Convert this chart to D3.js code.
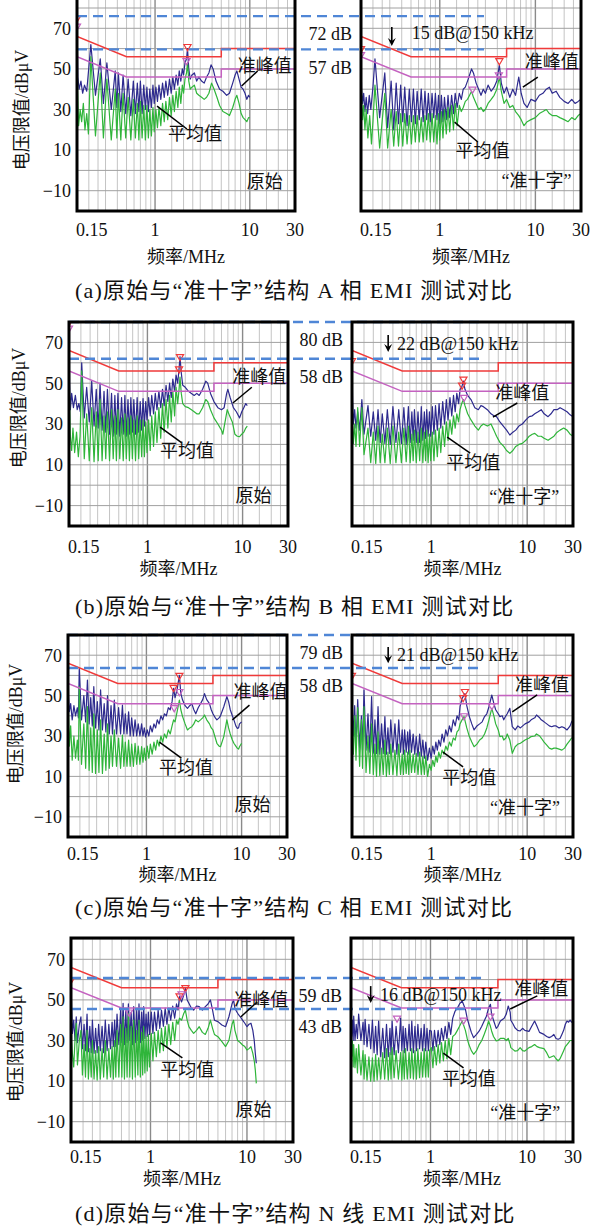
<!DOCTYPE html>
<html>
<head>
<meta charset="utf-8">
<script src="https://cdn.jsdelivr.net/npm/d3@7"></script>
<style>
  body { margin: 0; background: #fff; }
  text { font-family: "Liberation Serif", "Times New Roman", "Noto Sans CJK SC", serif; fill: #111; }
</style>
</head>
<body>
<svg width="590" height="1230"></svg>
<script>
// ---- data (frequency in MHz, level in dBuV) ----
const freqTicks = [0.15, 1, 10, 30];
const freqTickLabels = ['0.15', '1', '10', '30'];
const levelTicks = [70, 50, 30, 10, -10];

const qpLimit = [[0.15, 66], [0.5, 56], [5, 56], [5, 60], [30, 60]];
const avLimit = [[0.15, 56], [0.5, 46], [5, 46], [5, 50], [30, 50]];

// (a) phase A
const aOrigQP = [[0.150,74],[0.153,46],[0.158,40],[0.165,44],[0.172,38],[0.18,42],[0.19,39],
  [0.21,62],[0.235,37],[0.264,55],[0.285,33],[0.31,53],[0.345,30],[0.38,49],[0.395,31],[0.41,48],[0.435,29],[0.46,47],[0.49,28],[0.52,45],[0.555,27],[0.59,44],[0.62,28],[0.65,43],[0.675,29],[0.7,44],[0.73,28],[0.76,42],[0.79,30],[0.82,41],[0.85,29],[0.88,40],[0.915,31],[0.95,42],[0.98,33],
  [1.02,41],[1.06,34],[1.1,42],[1.15,35],[1.2,43],[1.25,36],[1.3,44],[1.36,37],[1.42,45],[1.48,38],[1.54,46],[1.6,40],[1.67,47],[1.74,42],[1.8,49],[1.87,44],[1.94,50],[2.0,47],[2.07,53],[2.15,55],[2.2,60],[2.27,50],[2.35,45],[2.45,47],[2.6,48],[2.75,44],[2.9,46],[3.1,44],[3.3,43],[3.5,46],[3.7,48],[3.9,52],[4.1,50],[4.4,44],[4.8,40],[5.2,39],[5.7,37],[6.1,38],[6.6,43],[7.0,47],[7.3,49],[7.7,45],[8.1,41],[8.5,40],[8.9,38],[9.3,35],[9.7,37],[10,36]];
const aOrigAV = [[0.150,68],[0.152,40],[0.156,22],[0.162,30],[0.168,24],[0.175,33],[0.182,20],[0.19,28],[0.198,18],
  [0.21,56],[0.235,17],[0.264,48],[0.285,16],[0.31,45],[0.345,15],[0.38,40],[0.395,16],[0.41,38],[0.435,15],[0.46,38],[0.49,16],[0.52,36],[0.555,15],[0.59,35],[0.62,16],[0.65,33],[0.675,15],[0.7,34],[0.73,16],[0.76,32],[0.79,15],[0.82,32],[0.85,16],[0.88,30],[0.915,17],[0.95,31],[0.98,19],
  [1.02,30],[1.06,21],[1.1,31],[1.15,22],[1.2,33],[1.25,24],[1.3,34],[1.36,25],[1.42,36],[1.48,27],[1.54,37],[1.6,29],[1.67,39],[1.74,31],[1.8,41],[1.87,33],[1.94,42],[2.0,38],[2.07,45],[2.15,48],[2.2,53],[2.27,44],[2.35,40],[2.45,41],[2.6,42],[2.75,38],[2.9,37],[3.1,36],[3.3,35],[3.5,36],[3.7,38],[3.95,43],[4.2,40],[4.5,36],[4.8,32],[5.2,29],[5.7,28],[6.1,27],[6.6,31],[7.0,35],[7.3,37],[7.7,33],[8.1,28],[8.5,26],[8.9,25],[9.3,24],[9.7,26],[10,26]];
const aCrossQP = [[0.150,59],[0.152,40],[0.156,33],[0.16,38],[0.165,29],[0.17,36],[0.176,28],[0.183,37],[0.19,30],[0.2,41],
  [0.21,55],[0.235,26],[0.266,48],[0.285,21],[0.31,44],[0.33,20],[0.35,43],[0.37,23],[0.39,42],[0.41,24],[0.43,41],[0.455,22],[0.48,40],[0.505,24],[0.53,40],[0.555,23],[0.58,39],[0.61,25],[0.64,40],[0.67,24],[0.7,39],[0.73,25],[0.76,38],[0.795,24],[0.83,38],[0.865,26],[0.9,38],[0.935,25],[0.97,37],[1.0,23],
  [1.04,37],[1.08,24],[1.12,36],[1.17,25],[1.22,37],[1.27,26],[1.33,37],[1.39,28],[1.45,38],[1.52,31],[1.6,38],[1.68,35],[1.76,40],[1.85,41],[1.95,44],[2.05,47],[2.15,50],[2.25,48],[2.4,43],[2.55,40],[2.7,37],[2.85,40],[3.0,38],[3.2,42],[3.45,39],[3.7,41],[3.95,44],[4.2,52],[4.4,43],[4.7,38],[5.0,41],[5.4,36],[5.8,40],[6.2,37],[6.7,46],[7.1,38],[7.6,33],[8.2,31],[9.0,35],[10,34],[11,37],[12,38],[13,40],[14,41],[15,38],[16.5,39],[18,36],[20,34],[22,33],[24,35],[26,33],[28,34],[30,35]];
const aCrossAV = [[0.150,57],[0.152,35],[0.156,25],[0.16,32],[0.165,20],[0.17,30],[0.177,16],[0.185,27],[0.193,13],[0.2,24],
  [0.21,42],[0.235,11],[0.266,38],[0.285,11],[0.31,30],[0.33,12],[0.35,29],[0.37,12],[0.39,28],[0.41,12],[0.43,28],[0.455,13],[0.48,27],[0.505,13],[0.53,27],[0.555,14],[0.58,27],[0.61,14],[0.64,26],[0.67,14],[0.7,27],[0.73,15],[0.76,28],[0.795,14],[0.83,28],[0.865,14],[0.9,27],[0.935,13],[0.97,28],[1.0,15],
  [1.04,29],[1.08,16],[1.12,30],[1.17,18],[1.22,31],[1.27,19],[1.33,32],[1.39,20],[1.45,33],[1.52,22],[1.6,32],[1.68,29],[1.76,31],[1.85,34],[1.95,35],[2.05,37],[2.15,39],[2.25,36],[2.4,33],[2.55,30],[2.7,31],[2.85,29],[3.0,30],[3.2,33],[3.45,35],[3.7,37],[3.95,40],[4.2,46],[4.4,39],[4.7,33],[5.0,35],[5.4,31],[5.8,32],[6.2,29],[6.7,27],[7.1,25],[7.6,22],[8.2,24],[9.0,25],[10,26],[11,28],[12,29],[13,30],[14,28],[15,27],[16.5,27],[18,26],[20,25],[22,24],[24,26],[26,25],[28,27],[30,28]];

// (b) phase B
const bOrigQP = [[0.150,80],[0.152,50],[0.155,37],[0.16,45],[0.167,38],[0.175,44],[0.183,37],[0.19,40],[0.197,36],
  [0.204,60],[0.217,33],[0.23,48],[0.245,31],[0.26,51],[0.275,29],[0.29,47],[0.304,28],[0.318,50],[0.334,27],[0.35,46],[0.365,26],[0.38,47],[0.4,25],[0.42,45],[0.437,24],[0.455,44],[0.472,25],[0.49,45],[0.512,24],[0.535,43],[0.557,25],[0.58,44],[0.6,24],[0.625,42],[0.647,25],[0.67,43],[0.695,26],[0.72,42],[0.75,25],[0.78,43],[0.81,26],[0.84,41],[0.87,27],[0.9,42.5],[0.93,29],[0.96,41],[0.99,32],
  [1.03,43],[1.07,34],[1.11,44],[1.16,35],[1.21,45],[1.26,37],[1.32,46],[1.38,38],[1.44,47],[1.5,39],[1.57,49],[1.64,41],[1.71,50],[1.78,43],[1.85,52],[1.93,46],[2.0,54],[2.08,50],[2.15,57],[2.2,63],[2.27,55],[2.35,49],[2.5,48],[2.7,46],[2.9,45],[3.1,44],[3.3,45],[3.5,44],[3.8,47],[4.1,51],[4.3,50],[4.6,45],[5.0,41],[5.5,38],[6.0,37],[6.4,38],[6.8,45],[7.0,47],[7.4,43],[8.0,38],[8.6,36],[9.3,33],[9.8,36],[10.3,38],[10.8,40],[11.2,39]];
const bOrigAV = [[0.150,73],[0.152,40],[0.155,24],[0.16,17],[0.165,28],[0.172,16],[0.18,26],[0.188,14],[0.196,24],
  [0.204,56],[0.217,13],[0.23,35],[0.245,12],[0.26,38],[0.275,11.5],[0.29,36],[0.304,12],[0.318,42],[0.334,12],[0.35,34],[0.365,13],[0.38,36],[0.4,12],[0.42,37],[0.437,13],[0.455,34],[0.472,12],[0.49,37],[0.512,13],[0.535,33],[0.557,12],[0.58,35],[0.6,13],[0.625,33],[0.647,12],[0.67,34],[0.695,13],[0.72,32],[0.75,12],[0.78,34],[0.81,13],[0.84,32],[0.87,14],[0.9,32],[0.93,14],[0.96,31],[0.99,16],
  [1.03,32],[1.07,17],[1.11,34],[1.16,19],[1.21,36],[1.26,21],[1.32,38],[1.38,23],[1.44,40],[1.5,26],[1.57,42],[1.64,28],[1.71,44],[1.78,31],[1.85,46],[1.93,34],[2.0,48],[2.08,40],[2.15,47],[2.2,53],[2.27,45],[2.35,40],[2.5,38.5],[2.7,38],[2.9,37],[3.1,36],[3.3,35],[3.5,35],[3.8,38],[4.1,42],[4.3,41],[4.6,37],[5.0,33],[5.5,30],[6.0,27],[6.2,25],[6.6,32],[6.9,37],[7.3,34],[7.8,31],[8.3,25],[8.8,24],[9.3,23.8],[9.8,25],[10.3,26],[10.8,28],[11.2,29]];
const bCrossQP = [[0.150,61],[0.152,42],[0.155,30],[0.16,37],[0.165,28],[0.172,36],[0.18,27],[0.19,42],[0.2,25],
  [0.22,39],[0.235,24],[0.25,36],[0.265,22],[0.28,37],[0.295,21],[0.31,35],[0.33,20.5],[0.35,37],[0.375,20],[0.4,38.5],[0.43,21],[0.46,37],[0.49,20.5],[0.52,38],[0.55,20],[0.58,38.5],[0.605,21],[0.63,36],[0.65,22],[0.67,37],[0.7,21],[0.73,36],[0.76,21],[0.79,38.5],[0.82,22],[0.85,36],[0.875,23],[0.9,37],[0.93,24],[0.96,36],[0.99,24],
  [1.03,38.5],[1.07,25],[1.11,39],[1.16,27],[1.21,40],[1.26,28],[1.32,41],[1.38,30],[1.44,42],[1.5,32],[1.57,43],[1.64,34],[1.71,44],[1.78,36],[1.85,45],[1.93,40],[2.0,47],[2.08,48],[2.17,51],[2.25,47],[2.4,44],[2.6,42],[2.85,38],[3.1,37],[3.3,39],[3.5,38.5],[3.85,37],[4.2,35],[4.5,34],[4.8,33.6],[5.2,31],[5.7,28.7],[6.1,27],[6.6,24.6],[7.1,26],[7.6,27],[8.2,29],[8.9,30],[9.7,32],[10.5,33.6],[11.3,34],[12,35],[13,36],[14,37],[15,35],[16.5,33.6],[17.7,35],[19,37],[20.5,37],[22,38],[24,37],[26,36],[28,34.5],[30,33.6]];
const bCrossAV = [[0.150,53],[0.152,30],[0.155,20.5],[0.16,30],[0.165,19],[0.172,38],[0.18,19],[0.19,38],[0.2,15],
  [0.22,28],[0.235,11],[0.25,26],[0.265,10.7],[0.28,29],[0.295,11],[0.31,25],[0.33,11],[0.35,28],[0.375,10.7],[0.4,29],[0.43,11],[0.46,26],[0.49,11],[0.52,28],[0.55,11.5],[0.58,29],[0.605,11],[0.63,25],[0.65,12],[0.67,27],[0.7,11],[0.73,26],[0.76,12],[0.79,28],[0.82,11],[0.85,26],[0.875,12],[0.9,27],[0.93,11],[0.96,25],[0.99,12],
  [1.03,26],[1.07,12],[1.11,27],[1.16,14],[1.21,28],[1.26,16],[1.32,29],[1.38,19],[1.44,31],[1.5,22],[1.57,32],[1.64,25],[1.71,34],[1.78,28],[1.85,35],[1.93,31],[2.0,37],[2.08,40],[2.17,42],[2.25,39],[2.4,35],[2.6,32],[2.85,29],[3.1,27],[3.3,29],[3.5,30],[3.85,29],[4.2,30],[4.5,27],[4.8,24],[5.2,21],[5.7,19],[6.1,17],[6.6,15.6],[7.1,17],[7.6,19],[8.2,20],[8.9,20.5],[9.7,22],[10.5,24],[11.3,25],[12,25.4],[13,24],[14,24],[15,23],[16.5,22],[17.7,23],[19,24],[20.5,26],[22,27],[24,28],[26,27],[28,25],[30,24]];

// (c) phase C
const cOrigQP = [[0.150,66],[0.152,50],[0.155,42],[0.16,46],[0.166,38],[0.173,45],[0.18,40],[0.188,44],[0.193,39],
  [0.197,63.5],[0.208,38],[0.22,50],[0.23,37],[0.24,57.7],[0.25,36],[0.26,49],[0.27,35],[0.28,54.4],[0.292,34],[0.305,47],[0.317,33],[0.33,52.8],[0.345,33],[0.36,46],[0.375,32],[0.39,50],[0.407,31],[0.425,45],[0.44,31],[0.46,47.8],[0.485,31],[0.51,44],[0.535,31],[0.56,45.3],[0.58,31],[0.6,41],[0.625,31],[0.65,42],[0.675,30],[0.7,39],[0.73,30],[0.76,38],[0.79,30],[0.82,36],[0.855,30],[0.89,36],[0.92,30],[0.95,34],[0.98,29.5],
  [1.02,33],[1.06,30],[1.1,35],[1.15,32],[1.2,36],[1.25,34],[1.3,38],[1.36,36],[1.42,40],[1.48,38],[1.55,41],[1.62,40],[1.7,44],[1.78,43],[1.86,47],[1.93,53.6],[2.0,49],[2.1,53],[2.22,60],[2.3,51],[2.4,47.8],[2.55,45],[2.7,43.7],[2.85,45],[3.0,46],[3.15,43],[3.3,41],[3.5,44],[3.7,46],[3.9,48],[4.08,51],[4.3,48],[4.6,46],[4.8,43],[5.0,41],[5.3,39],[5.5,38],[5.8,39],[6.0,40],[6.5,44.5],[7.0,49.5],[7.3,47],[7.6,43],[8.0,40],[8.3,38],[8.7,35],[9.0,33.8],[9.3,34],[9.5,36],[10,37]];
const cOrigAV = [[0.150,64],[0.152,40],[0.155,25],[0.16,35],[0.166,18],[0.173,30],[0.18,19],[0.188,28],[0.193,18],
  [0.197,54.4],[0.208,16],[0.22,36],[0.23,14],[0.24,44.5],[0.25,13],[0.26,34],[0.27,12],[0.28,41],[0.292,11.5],[0.305,33],[0.317,12],[0.33,38],[0.345,11.5],[0.36,31],[0.375,13],[0.39,36],[0.407,14],[0.425,30],[0.44,15],[0.46,33],[0.485,15],[0.51,29],[0.535,14],[0.56,30.5],[0.58,15],[0.6,27],[0.625,15],[0.65,28],[0.675,15],[0.7,26],[0.73,15],[0.76,26.4],[0.79,16],[0.82,25],[0.855,16],[0.89,24.7],[0.92,17],[0.95,24],[0.98,18],
  [1.02,25],[1.06,19],[1.1,26],[1.15,21],[1.2,27],[1.25,23],[1.3,28],[1.36,25],[1.42,30],[1.48,27],[1.55,31],[1.62,29],[1.7,33],[1.78,31],[1.86,35],[1.93,38],[2.0,37],[2.1,42],[2.22,47.8],[2.3,43],[2.4,39.6],[2.55,36],[2.7,33],[2.85,34],[3.0,34.6],[3.15,36],[3.3,38],[3.5,37],[3.7,38],[3.9,39],[4.08,40.4],[4.3,38],[4.6,36],[4.8,34],[5.0,33],[5.3,29],[5.5,26.4],[5.8,25],[6.0,24.7],[6.5,29.7],[7.0,38],[7.3,34],[7.6,31],[8.0,28],[8.3,26.4],[8.7,25],[9.0,24],[9.3,23.5],[9.5,24.7],[10,26.4]];
const cCrossQP = [[0.150,59.4],[0.152,40],[0.155,30],[0.16,45],[0.165,25],[0.172,48],[0.18,24],[0.188,40],[0.193,23],
  [0.2,52.8],[0.21,23],[0.22,41],[0.23,22],[0.24,49.5],[0.25,21.5],[0.26,38],[0.27,21.4],[0.28,44.5],[0.292,21],[0.305,36],[0.317,21.4],[0.33,39.6],[0.342,21],[0.355,34],[0.367,21.4],[0.38,38],[0.4,22],[0.42,36],[0.44,21],[0.46,38],[0.48,22],[0.5,33],[0.515,21],[0.53,33],[0.55,22],[0.57,32],[0.585,21],[0.6,33],[0.625,22],[0.65,31],[0.675,21],[0.7,29.7],[0.73,20],[0.76,31],[0.79,20],[0.82,28],[0.85,19],[0.88,27],[0.92,18],
  [0.96,24],[1.0,19],[1.04,25],[1.08,21],[1.12,27],[1.16,23],[1.2,28],[1.25,25],[1.3,31],[1.36,27],[1.42,33],[1.48,30],[1.55,35],[1.62,32],[1.7,38],[1.78,35],[1.86,40],[1.94,38],[2.0,44.5],[2.1,48.6],[2.25,51],[2.35,45],[2.5,39.6],[2.65,36],[2.8,33],[3.0,35],[3.2,36],[3.4,37],[3.6,39.6],[3.8,41],[4.0,44.5],[4.28,50.3],[4.5,46],[4.7,43],[5.0,41],[5.2,39.6],[5.5,40],[5.7,38],[6.0,40],[6.2,41],[6.6,43.7],[7.0,34.6],[7.5,33],[8.0,35],[8.5,34],[9.5,36],[10.5,37],[11,38],[12,39],[12.5,40.4],[13.5,39],[14,38],[15,37],[16,36],[17,35],[18,34.6],[19,35],[20,35],[21.5,34],[23,34.6],[24.5,34],[26,33],[27,34],[28,35],[29,37],[30,38]];
const cCrossAV = [[0.150,59],[0.152,30],[0.155,21],[0.16,40],[0.165,18],[0.172,44],[0.18,15],[0.188,38],[0.193,14],
  [0.2,44.5],[0.21,12],[0.22,30],[0.23,11.5],[0.24,36],[0.25,11],[0.26,26],[0.27,10],[0.28,32],[0.292,10.5],[0.305,24],[0.317,11],[0.33,28],[0.342,10],[0.355,22],[0.367,11],[0.38,26],[0.4,11],[0.42,23],[0.44,10.5],[0.46,26],[0.48,11],[0.5,21],[0.515,11],[0.53,23],[0.55,11.5],[0.57,22],[0.585,11],[0.6,23],[0.625,12],[0.65,21],[0.675,12],[0.7,21.4],[0.73,11],[0.76,22],[0.79,11],[0.82,20],[0.85,11],[0.88,20],[0.92,10],
  [0.96,16],[1.0,13],[1.04,18],[1.08,15],[1.12,20],[1.16,17],[1.2,22],[1.25,19],[1.3,23],[1.36,21],[1.42,25],[1.48,23],[1.55,27],[1.62,25],[1.7,29],[1.78,28],[1.86,32],[1.94,33],[2.0,36],[2.1,38],[2.2,39.6],[2.35,34],[2.5,29.7],[2.65,27],[2.8,24.7],[3.0,26],[3.2,28],[3.4,29],[3.6,31],[3.8,34],[4.0,38],[4.28,43.7],[4.5,40],[4.7,36],[5.0,33],[5.2,29.7],[5.5,30],[5.7,28],[6.0,29],[6.2,31],[6.6,28],[7.0,21.4],[7.5,24.7],[8.0,26],[8.5,26.4],[9.5,28],[10.5,29],[11,29.7],[12,30],[12.5,31],[13.5,30],[14,29],[15,27],[16,25.5],[17,24],[18,23.5],[19,24],[20,24],[21.5,23.5],[23,23],[24.5,24],[26,26],[27,27],[28,28],[29,29],[30,29]];

// (d) N line
const dOrigQP = [[0.150,59.8],[0.152,46.7],[0.155,33.5],[0.16,40],[0.165,30],[0.17,41.7],[0.175,29],[0.183,38],
  [0.19,41.7],[0.197,26],[0.205,38],[0.212,25],[0.22,43],[0.227,24.5],[0.235,37],[0.243,24],[0.25,40],[0.26,23.7],[0.27,36],[0.28,24],[0.29,38],[0.302,25],[0.315,37],[0.327,24],[0.34,40],[0.355,25],[0.37,38],[0.385,26],[0.4,39],[0.412,27],[0.425,40],[0.437,27],[0.45,43],[0.47,28],[0.49,45],[0.505,29],[0.52,48.3],[0.537,28],[0.555,45],[0.572,29],[0.59,48],[0.61,30],[0.63,44],[0.65,28],[0.67,46.7],[0.695,29],[0.72,45],[0.74,30],[0.76,48],[0.785,29],[0.81,44],[0.83,30],[0.85,46.7],[0.875,31],[0.9,43],[0.925,32],[0.95,44],[0.975,33],
  [1.02,44],[1.06,33.5],[1.1,44],[1.15,35],[1.2,45],[1.25,36],[1.3,45],[1.36,37],[1.42,46],[1.48,38],[1.55,46],[1.62,40],[1.7,47],[1.78,41],[1.86,48],[1.93,45],[2.0,51.6],[2.1,49],[2.2,52],[2.3,55.7],[2.4,50],[2.5,48.3],[2.65,46],[2.8,45],[3.0,47],[3.2,46.7],[3.45,45],[3.7,46.7],[3.95,48],[4.18,50],[4.4,45],[4.6,40],[5.0,39.3],[5.5,37.6],[6.0,36.8],[6.5,41.7],[7.0,48],[7.26,50],[7.5,45.8],[8.0,43.4],[8.5,41.7],[9.0,40],[9.5,38.5],[10,36.8],[10.5,38],[11,38.5],[11.5,35],[11.9,30],[12.2,23.7],[12.5,18.8]];
const dOrigAV = [[0.150,51.6],[0.152,30],[0.155,23.7],[0.16,17],[0.165,30],[0.17,38.5],[0.175,18],[0.183,30],
  [0.19,35],[0.197,13],[0.205,28],[0.212,12],[0.22,35],[0.227,11],[0.235,26],[0.243,12],[0.25,30],[0.26,11],[0.27,25],[0.28,10.5],[0.29,27],[0.302,11],[0.315,26],[0.327,12],[0.34,30],[0.355,11],[0.37,26],[0.385,12],[0.4,27],[0.412,11],[0.425,30],[0.437,12],[0.45,35],[0.47,12],[0.49,38],[0.505,12],[0.52,41.7],[0.537,11],[0.555,36],[0.572,12],[0.59,43.4],[0.61,12],[0.63,37],[0.65,11],[0.67,40],[0.695,12],[0.72,35],[0.74,13],[0.76,40],[0.785,12],[0.81,34],[0.83,13],[0.85,36.8],[0.875,14],[0.9,32],[0.925,15],[0.95,33],[0.975,17],
  [1.02,33.5],[1.06,20],[1.1,34],[1.15,22],[1.2,35],[1.25,24],[1.3,36],[1.36,25],[1.42,37],[1.48,27],[1.55,38],[1.62,28],[1.7,39],[1.78,30],[1.86,40],[1.93,38],[2.0,41],[2.1,40],[2.2,43],[2.3,45],[2.4,40],[2.5,36.8],[2.65,35],[2.8,33.5],[3.0,35],[3.2,36.8],[3.45,34],[3.7,33],[3.95,36],[4.18,40],[4.4,36],[4.6,33],[5.0,31.9],[5.5,29.4],[6.0,27],[6.5,30],[7.0,38],[7.26,40],[7.5,35],[8.0,30],[8.5,29],[9.0,27.8],[9.5,27],[10,25.3],[10.5,26],[11,27],[11.5,23.7],[11.9,20],[12.2,15.5],[12.5,8.9]];
const dCrossQP = [[0.150,43],[0.152,32],[0.155,40],[0.158,30],[0.16,42],[0.165,30],[0.17,38],[0.175,31],[0.18,43],[0.19,30],
  [0.2,39],[0.205,28],[0.21,40.4],[0.22,27],[0.23,38],[0.24,26],[0.25,40],[0.26,24],[0.27,37],[0.28,23],[0.29,39.6],[0.305,22],[0.32,36],[0.335,21.5],[0.35,38],[0.365,22],[0.38,36],[0.39,23],[0.4,39.6],[0.42,23],[0.44,37],[0.465,24],[0.49,41],[0.505,25],[0.52,37],[0.535,24],[0.55,36],[0.575,25],[0.6,38],[0.62,25],[0.64,39.6],[0.665,24],[0.69,37],[0.715,25],[0.74,38],[0.77,26],[0.8,36],[0.83,25],[0.86,38],[0.89,25],[0.92,36],[0.95,25],[0.98,35],
  [1.02,34.7],[1.06,25],[1.1,35],[1.15,27],[1.2,35],[1.25,28],[1.3,36],[1.36,30],[1.42,37],[1.48,31],[1.55,39],[1.62,33],[1.7,41],[1.8,44.5],[1.9,46],[2.0,48],[2.13,49.5],[2.3,45.4],[2.4,41],[2.5,38],[2.65,34],[2.8,31.4],[3.0,33],[3.2,34.7],[3.4,37],[3.6,39.6],[3.8,42],[4.0,46],[4.18,47.8],[4.3,43],[4.5,40],[4.8,36],[5.0,37],[5.3,39.6],[5.8,41],[6.1,43],[6.4,47],[6.7,44],[6.8,40],[7.2,38],[7.5,36.3],[8.0,35],[8.5,34.7],[9.0,36],[9.5,35],[10.5,34.5],[11.2,37],[12,39.6],[12.7,37],[13.5,34],[15,33],[16,32],[17,31.4],[18,32],[19,33],[20,31],[21,30.6],[22,31],[23,33],[24,35],[25,38],[26,39.6],[27,39],[28,40],[29,39],[30,39.6]];
const dCrossAV = [[0.150,38],[0.152,22],[0.155,30],[0.158,17],[0.16,28],[0.165,16.6],[0.17,26],[0.175,14],[0.18,28],[0.19,13],
  [0.2,25],[0.205,11],[0.21,23],[0.22,10.5],[0.23,22],[0.24,10],[0.25,21.5],[0.26,10],[0.27,23],[0.28,10.5],[0.29,21.5],[0.305,11],[0.32,24],[0.335,11],[0.35,26],[0.365,10.5],[0.38,24],[0.39,11],[0.4,26.5],[0.42,11.7],[0.44,25],[0.465,11],[0.49,24],[0.505,10.5],[0.52,25],[0.535,11],[0.55,26],[0.575,11],[0.6,24],[0.62,11.5],[0.64,26],[0.665,11],[0.69,25],[0.715,11],[0.74,26],[0.77,11.7],[0.8,24],[0.83,12],[0.86,26],[0.89,12],[0.92,25],[0.95,12],[0.98,25],
  [1.02,26.5],[1.06,16.6],[1.1,27],[1.15,18],[1.2,28],[1.25,19],[1.3,29],[1.36,20],[1.42,30],[1.48,21],[1.55,31],[1.62,23],[1.7,32],[1.8,33],[1.9,35],[2.0,37],[2.13,39.6],[2.3,35],[2.4,31],[2.5,28],[2.65,25],[2.8,23.2],[3.0,25],[3.2,28],[3.4,30],[3.6,33],[3.8,36],[4.0,39.6],[4.18,37],[4.3,34.7],[4.5,32],[4.8,29.8],[5.0,30],[5.3,31],[5.8,31],[6.1,30],[6.4,31],[6.7,28],[6.8,26.5],[7.2,25.5],[7.5,24.8],[8.0,25],[8.5,26.5],[9.0,25],[9.5,24.8],[10.5,26.5],[11.2,27],[12,28],[12.7,27],[13.5,26.5],[15,26],[16,24],[17,21.5],[18,22],[19,22.5],[20,21],[21,20],[22,21],[23,23],[24,25],[25,27],[26,28],[27,29],[28,30],[29,30],[30,29.8]];

// peak markers (quasi-peak in red, average in pink)
const qpMarks = [[[0.15,75],[2.2,61]], [[0.15,60],[4.2,54]], [[0.15,80],[2.2,63],[2.15,57]], [[0.15,61],[2.17,52],[2.1,49]],
  [[2.22,60],[1.93,54]], [[0.15,60],[2.25,52],[2.15,49]], [[0.15,60],[2.3,56],[2.0,52]], []];
const avMarks = [[[0.15,71],[2.15,54]], [[0.15,57],[2.2,40],[4.15,47]], [[0.15,77]], [[2.2,43]],
  [[2.22,52],[1.96,44]], [[2.2,40],[4.28,45]], [[0.6,44],[2.1,53]], [[0.45,41],[2.2,40],[4.18,42]]];

const captions = ['(a)原始与“准十字”结构 A 相 EMI 测试对比', '(b)原始与“准十字”结构 B 相 EMI 测试对比',
  '(c)原始与“准十字”结构 C 相 EMI 测试对比', '(d)原始与“准十字”结构 N 线 EMI 测试对比'];
const dashLevels = [[76, 59.6], [80, 62], [80, 63.7], [60.8, 45.5]];
const peakTexts = [['72 dB', '57 dB'], ['80 dB', '58 dB'], ['79 dB', '58 dB'], ['59 dB', '43 dB']];
const reductionTexts = ['15 dB@150 kHz', '22 dB@150 kHz', '21 dB@150 kHz', '16 dB@150 kHz'];

// ---- layout ----
const rows = [
  {yTop: 8, yBot: 211, frameTop: -4, left: [77, 295], right: [361, 581], tickY: 236, titleY: 263, capY: 298, yTitle: [22, 110],
   dashEnd: 2.9, arrow: [0.315, 70.6, 61.3], note: [0.51, 67.7]},
  {yTop: 322, yBot: 526, frameTop: 322, left: [69, 288], right: [352, 573], tickY: 553, titleY: 575, capY: 614, yTitle: [19, 408],
   dashEnd: 3.2, arrow: [0.357, 73.6, 65.3], note: [0.44, 69.2]},
  {yTop: 635, yBot: 837, frameTop: 635, left: [68, 287], right: [352, 573], tickY: 860, titleY: 881, capY: 915, yTitle: [16, 724],
   dashEnd: 3.1, arrow: [0.357, 74, 66], note: [0.44, 70.1]},
  {yTop: 939, yBot: 1142, frameTop: 938, left: [71, 293], right: [351, 573], tickY: 1163, titleY: 1185, capY: 1221, yTitle: [16, 1042],
   dashEnd: 3.5, arrow: [0.24, 56.8, 48.5], note: [0.30, 52.4]}
];

// label anchors per panel, in (MHz, dB)
const panelLabels = [
  {qp: [14.4, 51.4], qpLead: [[8.2, 41.6], [12.1, 49]], av: [2.64, 17.9], avLead: [[1.05, 31.7], [2.17, 20.4]], name: [14.4, -5.7]},
  {qp: [14.8, 53.4], qpLead: [[7.4, 41], [10.6, 46]], av: [2.8, 9.6], avLead: [[1.43, 23.8], [2.5, 14]], name: [10.3, -5.2]},
  {qp: [15, 53], qpLead: [[7.9, 40.3], [12.5, 48]], av: [2.6, 17], avLead: [[1.36, 28.5], [2.3, 20.7]], name: [13, -5]},
  {qp: [8.9, 45.2], qpLead: [[4.4, 33.4], [7.9, 40.3]], av: [2.74, 10.9], avLead: [[1.47, 23.6], [2.55, 15.7]], name: [9.3, -5.8]},
  {qp: [15.8, 51.8], qpLead: [[8.0, 38], [12.1, 45.3]], av: [2.6, 14.2], avLead: [[1.37, 27], [2.33, 19]], name: [13, -4.2]},
  {qp: [14.3, 55.2], qpLead: [[7.0, 41.9], [12.7, 50.3]], av: [2.5, 9.2], avLead: [[1.33, 22], [2.15, 14.7]], name: [9.5, -5.6]},
  {qp: [14.1, 50], qpLead: [[8.6, 41.6], [12.8, 49]], av: [2.4, 15.5], avLead: [[1.27, 28.8], [2.14, 21.4]], name: [11.7, -4.2]},
  {qp: [14.1, 55.4], qpLead: [[6.7, 45.5], [12.8, 52]], av: [2.5, 11], avLead: [[1.36, 23.8], [2.2, 16.5]], name: [9.6, -5.7]}
];

const traces = [[aOrigQP, aOrigAV], [aCrossQP, aCrossAV], [bOrigQP, bOrigAV], [bCrossQP, bCrossAV],
  [cOrigQP, cOrigAV], [cCrossQP, cCrossAV], [dOrigQP, dOrigAV], [dCrossQP, dCrossAV]];

const QP_COLOR = '#2d2a8e';
const AV_COLOR = '#2fb53a';
const QP_LIMIT_COLOR = '#f03a3a';
const AV_LIMIT_COLOR = '#c462c0';
const DASH_COLOR = '#4f86d6';

const svg = d3.select('svg');
const defs = svg.append('defs');

// vertical grid lines: several per decade, decades drawn darker
const gridMultiples = [1, 1.5, 2, 2.5, 3, 4, 5, 6, 7, 8, 9];
const gridFreqs = [];
[0.1, 1, 10].forEach(dec => gridMultiples.forEach(m => {
  const f = +(m * dec).toFixed(3);
  if (f > 0.15 && f < 30) gridFreqs.push(f);
}));

function drawPanelBody(g, idx, row, side) {
  const [x0, x1] = side === 0 ? row.left : row.right;
  const x = d3.scaleLog().domain([0.15, 30]).range([x0, x1]);
  const y = d3.scaleLinear().domain([-20, 80]).range([row.yBot, row.yTop]);
  const top = row.frameTop;

  const clipId = 'clip' + idx;
  defs.append('clipPath').attr('id', clipId)
    .append('rect').attr('x', x0).attr('y', top).attr('width', x1 - x0).attr('height', row.yBot - top);

  const grid = g.append('g');
  grid.selectAll('.vg').data(gridFreqs).enter().append('line')
    .attr('x1', d => x(d)).attr('x2', d => x(d)).attr('y1', top).attr('y2', row.yBot)
    .attr('stroke', d => (d === 1 || d === 10) ? '#8a8a8a' : '#c4c4c4')
    .attr('stroke-width', d => (d === 1 || d === 10) ? 1.4 : 1);
  grid.selectAll('.hg').data(d3.range(-10, 90, 10)).enter().append('line')
    .attr('x1', x0).attr('x2', x1).attr('y1', d => y(d)).attr('y2', d => y(d))
    .attr('stroke', '#a0a0a0').attr('stroke-width', 1);

  const line = d3.line().x(d => x(d[0])).y(d => y(d[1]));
  const body = g.append('g').attr('clip-path', `url(#${clipId})`);
  const [qp, av] = traces[idx];
  body.append('path').datum(qp).attr('d', line).attr('fill', 'none')
    .attr('stroke', QP_COLOR).attr('stroke-width', 1.2).attr('stroke-linejoin', 'round');
  body.append('path').datum(av).attr('d', line).attr('fill', 'none')
    .attr('stroke', AV_COLOR).attr('stroke-width', 1.2).attr('stroke-linejoin', 'round');
  body.append('path').datum(qpLimit).attr('d', line).attr('fill', 'none')
    .attr('stroke', QP_LIMIT_COLOR).attr('stroke-width', 1.5);
  body.append('path').datum(avLimit).attr('d', line).attr('fill', 'none')
    .attr('stroke', AV_LIMIT_COLOR).attr('stroke-width', 1.5);

  const tri = d3.symbol().type(d3.symbolTriangle).size(22);
  body.selectAll('.qpm').data(qpMarks[idx]).enter().append('path')
    .attr('d', tri).attr('transform', d => `translate(${x(d[0])},${y(d[1])}) rotate(180)`)
    .attr('fill', 'none').attr('stroke', QP_LIMIT_COLOR).attr('stroke-width', 1.2);
  body.selectAll('.avm').data(avMarks[idx]).enter().append('path')
    .attr('d', tri).attr('transform', d => `translate(${x(d[0])},${y(d[1])}) rotate(180)`)
    .attr('fill', 'none').attr('stroke', AV_LIMIT_COLOR).attr('stroke-width', 1.2);

  return {x, y, x0, x1};
}

function drawPanelFrame(g, idx, row, sc) {
  const {x, y, x0, x1} = sc;
  const lab = panelLabels[idx];
  g.append('rect').attr('x', x0).attr('y', row.frameTop).attr('width', x1 - x0).attr('height', row.yBot - row.frameTop)
    .attr('fill', 'none').attr('stroke', '#000').attr('stroke-width', 3);

  // frequency tick labels
  g.selectAll('.xt').data(freqTicks).enter().append('text')
    .attr('x', (d, i) => i === 0 ? x0 - 1 : x(d))
    .attr('y', row.tickY)
    .attr('text-anchor', (d, i) => i === 0 ? 'start' : 'middle')
    .attr('font-size', 18)
    .text((d, i) => freqTickLabels[i]);
  g.append('text').attr('x', (x0 + x1) / 2).attr('y', row.titleY).attr('text-anchor', 'middle')
    .attr('font-size', 18).text('频率/MHz');

  // leaders and labels
  const leader = d3.line().x(d => x(d[0])).y(d => y(d[1]));
  [lab.qpLead, lab.avLead].forEach(l => {
    g.append('path').datum(l).attr('d', leader).attr('stroke', '#000').attr('stroke-width', 1.5).attr('fill', 'none');
  });
  g.append('text').attr('x', x(lab.qp[0])).attr('y', y(lab.qp[1])).attr('dy', '0.35em')
    .attr('text-anchor', 'middle').attr('font-size', 18).text('准峰值');
  g.append('text').attr('x', x(lab.av[0])).attr('y', y(lab.av[1])).attr('dy', '0.35em')
    .attr('text-anchor', 'middle').attr('font-size', 18).text('平均值');
  g.append('text').attr('x', x(lab.name[0])).attr('y', y(lab.name[1])).attr('dy', '0.35em')
    .attr('text-anchor', 'middle').attr('font-size', 18).text(idx % 2 === 0 ? '原始' : '“准十字”');
}

rows.forEach((row, r) => {
  const g = svg.append('g');
  const left = drawPanelBody(g, r * 2, row, 0);
  const right = drawPanelBody(g, r * 2 + 1, row, 1);

  // dashed reference lines spanning both panels
  g.selectAll('.dash').data(dashLevels[r]).enter().append('line')
    .attr('x1', left.x0).attr('x2', right.x(row.dashEnd))
    .attr('y1', d => left.y(d)).attr('y2', d => left.y(d))
    .attr('stroke', DASH_COLOR).attr('stroke-width', 2.4).attr('stroke-dasharray', '10,6');

  drawPanelFrame(g, r * 2, row, left);
  drawPanelFrame(g, r * 2 + 1, row, right);

  // level tick labels (left panel only)
  g.selectAll('.yt').data(levelTicks).enter().append('text')
    .attr('x', left.x0 - 6).attr('y', d => left.y(d)).attr('dy', '0.35em')
    .attr('text-anchor', 'end').attr('font-size', 18)
    .text(d => d < 0 ? '−' + Math.abs(d) : d);
  g.append('text').attr('transform', `translate(${row.yTitle[0]},${row.yTitle[1]}) rotate(-90)`)
    .attr('text-anchor', 'middle').attr('dy', '0.35em').attr('font-size', 18).text('电压限值/dBμV');

  // peak level notes between panels
  g.selectAll('.pk').data(dashLevels[r]).enter().append('text')
    .attr('x', right.x0 - 9).attr('y', d => left.y(d) + 18).attr('dy', '0.35em')
    .attr('text-anchor', 'end').attr('font-size', 18)
    .text((d, i) => peakTexts[r][i]);

  // reduction arrow (shaft + filled head) and note on the right panel
  const ax = right.x(row.arrow[0]);
  const ay1 = right.y(row.arrow[1]);
  const ay2 = right.y(row.arrow[2]);
  g.append('line').attr('x1', ax).attr('x2', ax).attr('y1', ay1).attr('y2', ay2 - 4)
    .attr('stroke', '#000').attr('stroke-width', 1.6);
  g.append('path').attr('d', `M${ax - 4},${ay2 - 8} L${ax},${ay2} L${ax + 4},${ay2 - 8} L${ax},${ay2 - 5} Z`)
    .attr('fill', '#000');
  g.append('text').attr('x', right.x(row.note[0])).attr('y', right.y(row.note[1])).attr('dy', '0.35em')
    .attr('font-size', 18).text(reductionTexts[r]);

  g.append('text').attr('x', 75).attr('y', row.capY).attr('font-size', 22)
    .attr('letter-spacing', 1.2).text(captions[r]);
});
</script>
</body>
</html>
